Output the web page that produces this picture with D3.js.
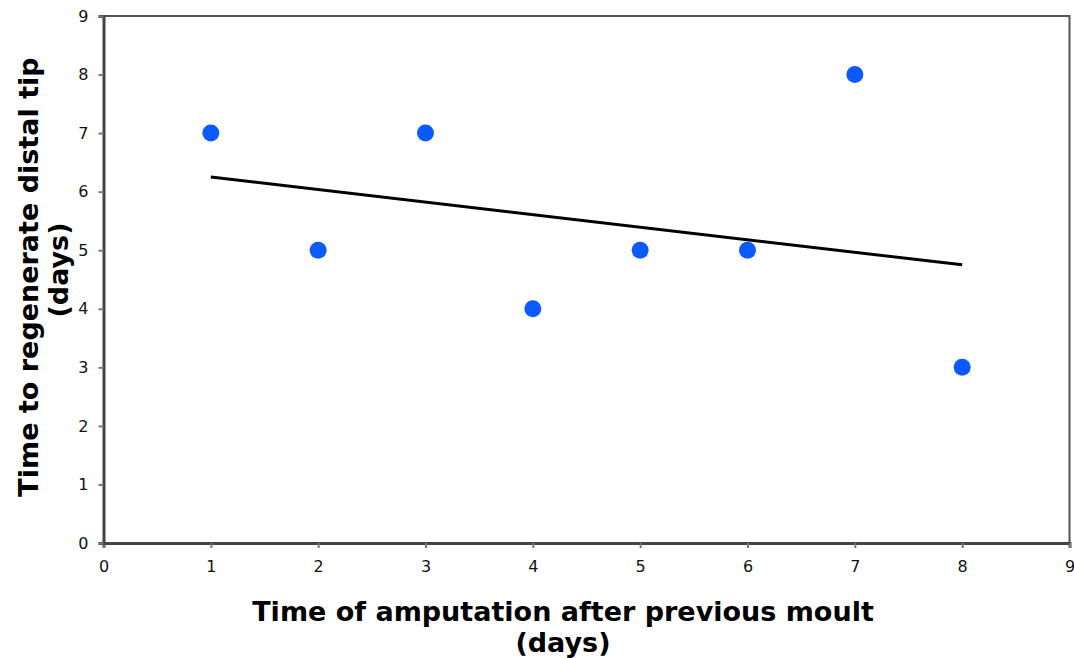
<!DOCTYPE html>
<html>
<head>
<meta charset="utf-8">
<script src="https://cdn.jsdelivr.net/npm/d3@7"></script>
<style>
  body { margin: 0; background: #fff; }
  svg { display: block; }
</style>
</head>
<body>
<svg id="chart" width="1074" height="658"></svg>
<script>
// data
var amputationDays = [1, 2, 3, 4, 5, 6, 7, 8];
var regenDays = [7, 5, 7, 4, 5, 5, 8, 3];
var trendX = [1, 8];
var trendY = [6.25, 4.75];
var xTicks = [0, 1, 2, 3, 4, 5, 6, 7, 8, 9];
var yTicks = [0, 1, 2, 3, 4, 5, 6, 7, 8, 9];
var xTitle = ["Time of amputation after previous moult", "(days)"];
var yTitle = ["Time to regenerate distal tip", "(days)"];

var svg = d3.select("#chart");
var plotL = 103.5, plotR = 1069.5, plotT = 16, plotB = 543;

var x = d3.scaleLinear().domain([0, 9]).range([plotL, plotR]);
var y = d3.scaleLinear().domain([0, 9]).range([plotB, plotT]);

// frame (top / right)
svg.append("path")
    .attr("d", "M" + plotL + "," + plotT + "H" + plotR + "V" + plotB)
    .attr("fill", "none")
    .attr("stroke", "#555")
    .attr("stroke-width", 2);

// axes
var xAxis = svg.append("g")
    .attr("transform", "translate(0," + plotB + ")")
    .call(d3.axisBottom(x).tickValues(xTicks).tickFormat(d3.format("d")).tickSize(5).tickPadding(13));
var yAxis = svg.append("g")
    .attr("transform", "translate(" + plotL + ",0)")
    .call(d3.axisLeft(y).tickValues(yTicks).tickFormat(d3.format("d")).tickSize(5).tickPadding(10));

[xAxis, yAxis].forEach(function (g) {
    g.select(".domain").attr("stroke", "#444").attr("stroke-width", 3);
    g.selectAll(".tick line").attr("stroke", "#777").attr("stroke-width", 2);
    g.selectAll(".tick text")
        .attr("fill", "#111")
        .style("font-family", "'DejaVu Sans', Verdana, sans-serif")
        .style("font-size", "16px");
});

// trend line
svg.append("line")
    .attr("x1", x(trendX[0])).attr("y1", y(trendY[0]))
    .attr("x2", x(trendX[1])).attr("y2", y(trendY[1]))
    .attr("stroke", "#000")
    .attr("stroke-width", 3);

// points
svg.selectAll("circle.pt")
    .data(amputationDays)
    .enter().append("circle")
    .attr("class", "pt")
    .attr("cx", function (d) { return x(d); })
    .attr("cy", function (d, i) { return y(regenDays[i]); })
    .attr("r", 8.5)
    .attr("fill", "#0a5aff");

// titles
var titleFont = "'DejaVu Sans', Verdana, sans-serif";
svg.append("text")
    .attr("x", 563).attr("y", 621)
    .attr("text-anchor", "middle")
    .style("font-family", titleFont).style("font-weight", "bold").style("font-size", "27px")
    .text(xTitle[0]);
svg.append("text")
    .attr("x", 563).attr("y", 652)
    .attr("text-anchor", "middle")
    .style("font-family", titleFont).style("font-weight", "bold").style("font-size", "27px")
    .text(xTitle[1]);

svg.append("text")
    .attr("transform", "translate(38,277) rotate(-90)")
    .attr("text-anchor", "middle")
    .style("font-family", titleFont).style("font-weight", "bold").style("font-size", "27px")
    .text(yTitle[0]);
svg.append("text")
    .attr("transform", "translate(68,270) rotate(-90)")
    .attr("text-anchor", "middle")
    .style("font-family", titleFont).style("font-weight", "bold").style("font-size", "27px")
    .text(yTitle[1]);
</script>
</body>
</html>
